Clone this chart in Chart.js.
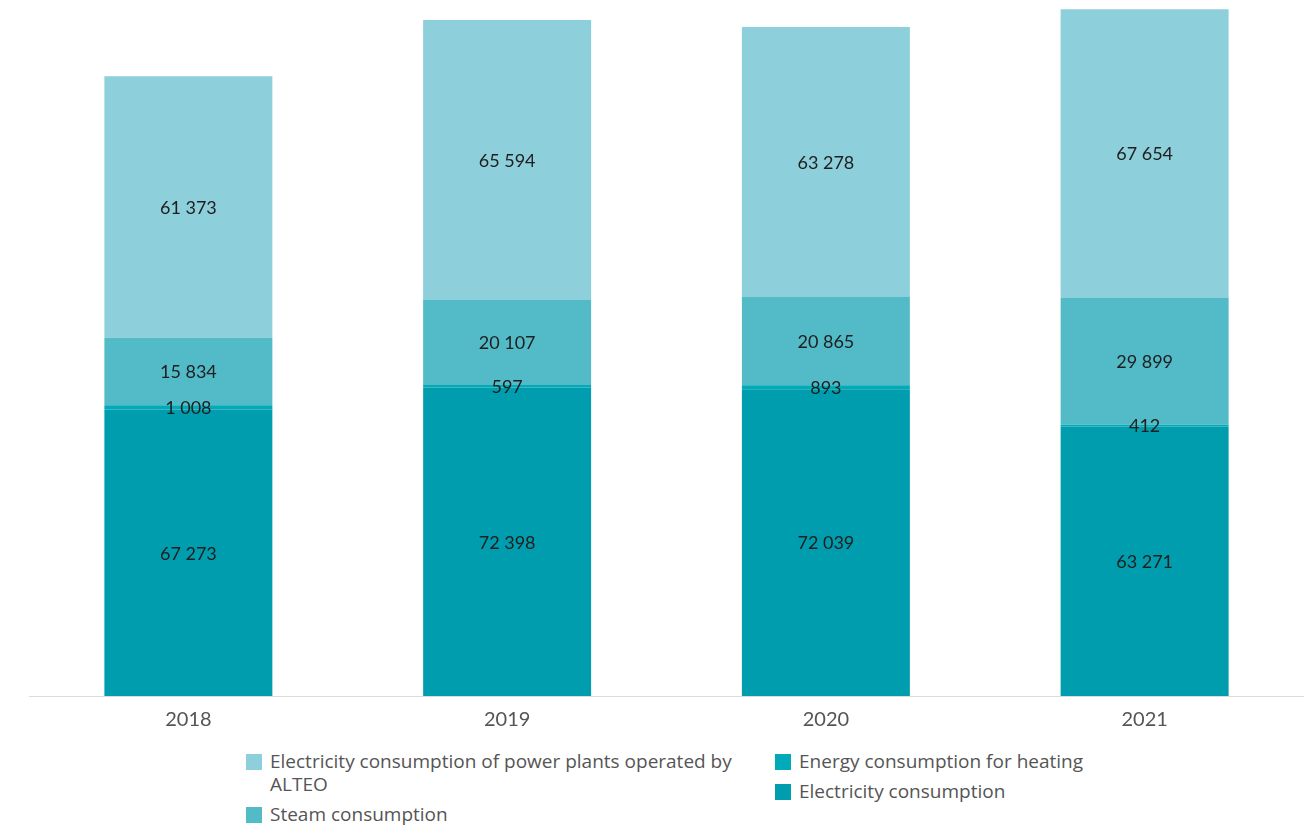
<!DOCTYPE html>
<html>
<head>
<meta charset="utf-8">
<script src="https://cdn.jsdelivr.net/npm/chart.js@4"></script>
<style>
  body { margin: 0; background: #fff; font-family: "Open Sans", Lato, sans-serif; }
  #wrap { position: relative; width: 1304px; height: 747px; }
  #legend { position: relative; width: 1304px; height: 78px; color: #555; font-size: 19px; }
  .col { position: absolute; top: 3px; }
  .item { position: relative; padding-left: 24px; line-height: 23px; margin-bottom: 7px; }
  .box { position: absolute; left: 0; top: 4px; width: 16px; height: 16px; }
</style>
</head>
<body>
<div id="wrap"><canvas id="chart"></canvas></div>
<div id="legend">
  <div class="col" id="colLeft" style="left:246px; width:500px;"></div>
  <div class="col" id="colRight" style="left:775px; width:400px;"></div>
</div>
<script>
// Dados do gráfico
const years = ['2018', '2019', '2020', '2021'];
const electricity = [67273, 72398, 72039, 63271];
const heating = [1008, 597, 893, 412];
const steam = [15834, 20107, 20865, 29899];
const powerPlants = [61373, 65594, 63278, 67654];

const seriesNames = [
    'Electricity consumption',
    'Energy consumption for heating',
    'Steam consumption',
    'Electricity consumption of power plants operated by ALTEO'
];
const colors = ['#009DAE', '#00AAB8', '#53BAC8', '#8DCFDA'];

function fmt(v) {
    return String(v).replace(/\B(?=(\d{3})+(?!\d))/g, ' ');
}

// Rótulos dentro das barras
const barLabels = {
    id: 'barLabels',
    afterDatasetsDraw(chart) {
        const ctx = chart.ctx;
        ctx.save();
        ctx.font = '18px Lato, "Open Sans", sans-serif';
        ctx.fillStyle = '#1e1e1e';
        ctx.textAlign = 'center';
        ctx.textBaseline = 'middle';
        chart.data.datasets.forEach((ds, i) => {
            chart.getDatasetMeta(i).data.forEach((bar, j) => {
                const p = bar.getProps(['x', 'y', 'base'], true);
                ctx.fillText(fmt(ds.data[j]), p.x, (p.y + p.base) / 2 + 1);
            });
        });
        ctx.restore();
    }
};

const allSeries = [electricity, heating, steam, powerPlants];

const chart = new Chart(document.getElementById('chart'), {
    type: 'bar',
    data: {
        labels: years,
        datasets: allSeries.map((d, i) => ({
            label: seriesNames[i],
            data: d,
            backgroundColor: colors[i],
            borderWidth: 0,
            categoryPercentage: 1,
            barPercentage: 0.527
        }))
    },
    options: {
        animation: false,
        responsive: true,
        maintainAspectRatio: false,
        layout: { padding: { left: 29, right: 0, top: 0, bottom: 3 } },
        scales: {
            x: {
                stacked: true,
                grid: { display: false, drawTicks: false },
                border: { color: '#dcdcdc', width: 1 },
                ticks: { color: '#555', font: { size: 20, family: 'Lato, "Open Sans", sans-serif' }, padding: 12 }
            },
            y: { stacked: true, display: false, min: 0, max: 163400 }
        },
        plugins: { legend: { display: false }, tooltip: { enabled: false } }
    },
    plugins: [barLabels]
});

// Legenda em HTML (duas colunas)
const legendOrder = [[3, 2], [1, 0]];
['colLeft', 'colRight'].forEach((id, c) => {
    const col = document.getElementById(id);
    legendOrder[c].forEach(i => {
        const item = document.createElement('div');
        item.className = 'item';
        item.innerHTML = '<span class="box" style="background:' + colors[i] + '"></span>' + seriesNames[i];
        col.appendChild(item);
    });
});
</script>
</body>
</html>
